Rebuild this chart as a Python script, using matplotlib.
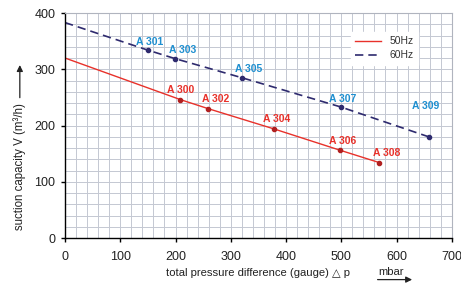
import matplotlib
matplotlib.use("Agg")
import matplotlib.pyplot as plt
from matplotlib.ticker import MultipleLocator

plt.rcParams['font.family'] = ['Liberation Sans', 'DejaVu Sans']

# data
x50 = [0, 209, 259, 378, 498, 569]
y50 = [320, 246, 230, 194, 156, 134]
lab50 = ["", "A 300", "A 302", "A 304", "A 306", "A 308"]
x60 = [0, 150, 199, 320, 499, 658]
y60 = [383, 334, 319, 285, 233, 180]
lab60 = ["", "A 301", "A 303", "A 305", "A 307", "A 309"]

red = "#e8312a"
navy = "#2e2a6e"
blue = "#1e8fd0"

fig = plt.figure(figsize=(4.61, 2.83), dpi=100)
ax = fig.add_axes([0.141, 0.159, 0.839, 0.795])
ax.set_xlim(0, 700)
ax.set_ylim(0, 400)
ax.xaxis.set_major_locator(MultipleLocator(100))
ax.yaxis.set_major_locator(MultipleLocator(100))
ax.xaxis.set_minor_locator(MultipleLocator(20))
ax.yaxis.set_minor_locator(MultipleLocator(20))
ax.grid(which='both', color='#c4c8d2', linewidth=0.7)
ax.set_axisbelow(True)
for s in ['top', 'right']:
    ax.spines[s].set_color('#b0b4be')
    ax.spines[s].set_linewidth(0.8)
for s in ['left', 'bottom']:
    ax.spines[s].set_linewidth(1.0)
ax.tick_params(which='major', direction='out', length=3, labelsize=9, width=1,
               labelcolor='#222222')
ax.tick_params(axis='x', which='major', pad=6)
ax.tick_params(axis='y', which='major', pad=4)
ax.tick_params(which='minor', length=0)

ax.plot(x50, y50, color=red, lw=1.0, label='50Hz')
ax.plot(x50[1:], y50[1:], 'o', color='#b02020', ms=3)
ax.plot(x60, y60, color=navy, lw=1.2, dashes=(5, 3), label='60Hz')
ax.plot(x60[1:], y60[1:], 'o', color=navy, ms=3)

off50 = {"A 300": (0, 8), "A 302": (14, 8), "A 304": (5, 8), "A 306": (5, 8), "A 308": (13, 8)}
for x, y, t in zip(x50, y50, lab50):
    if t:
        dx, dy = off50[t]
        ax.text(x + dx, y + dy, t, color=red, fontsize=7.5, fontweight='bold', ha='center', va='bottom')
off60 = {"A 301": (3, 6), "A 303": (13, 6), "A 305": (13, 6), "A 307": (4, 6), "A 309": (-5, 46)}
for x, y, t in zip(x60, y60, lab60):
    if t:
        dx, dy = off60[t]
        ax.text(x + dx, y + dy, t, color=blue, fontsize=7.5, fontweight='bold', ha='center', va='bottom')

leg = ax.legend(loc='upper right', bbox_to_anchor=(0.912, 0.915), fontsize=7.5, frameon=True,
                fancybox=False, edgecolor='white', framealpha=1, handlelength=2.5,
                borderpad=0.4, labelspacing=0.4, borderaxespad=0)
for t in leg.get_texts():
    t.set_color('#333333')

# labels
fig.text(0.043, 0.41, "suction capacity V (m\u00b3/h)", rotation=90, fontsize=8.3,
         ha='center', va='center', color='#222222')
fig.patches.append(matplotlib.patches.FancyArrowPatch((0.043, 0.645), (0.043, 0.78),
                   transform=fig.transFigure, arrowstyle='-|>', mutation_scale=9,
                   color='#222222', lw=0.9))
fig.text(0.56, 0.035, "total pressure difference (gauge) \u25b3 p", fontsize=8.1,
         ha='center', va='center', color='#222222')
fig.text(0.82, 0.04, "mbar", fontsize=8.1, ha='left', va='center', color='#222222')
fig.patches.append(matplotlib.patches.FancyArrowPatch((0.813, 0.012), (0.9, 0.012),
                   transform=fig.transFigure, arrowstyle='-|>', mutation_scale=9,
                   color='#222222', lw=0.9))

fig.savefig("out.png", dpi=100)
